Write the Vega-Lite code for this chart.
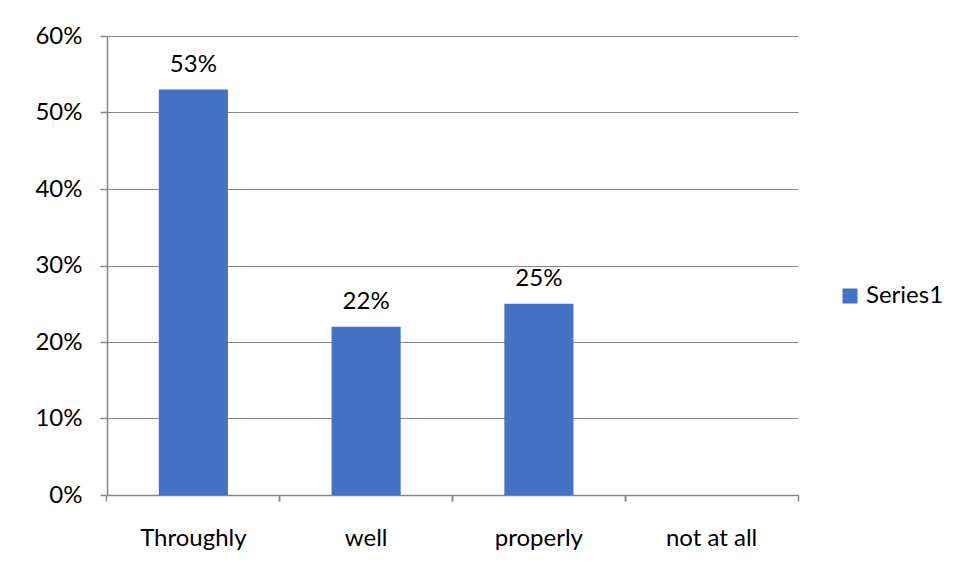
{
  "$schema": "https://vega.github.io/schema/vega-lite/v6.json",
  "width": 691,
  "height": 459,
  "autosize": "none",
  "padding": {"left": 107, "top": 36, "right": 172, "bottom": 87},
  "background": "white",
  "data": {
    "values": [
      {"category": "Throughly", "value": 0.53, "series": "Series1"},
      {"category": "well", "value": 0.22, "series": "Series1"},
      {"category": "properly", "value": 0.25, "series": "Series1"},
      {"category": "not at all", "value": 0, "series": "Series1"}
    ]
  },
  "config": {
    "font": "Lato",
    "view": {"stroke": null},
    "axis": {
      "labelFont": "Lato",
      "labelFontSize": 24,
      "labelFontWeight": "normal",
      "labelColor": "#000000",
      "domainColor": "#868686",
      "tickColor": "#868686",
      "gridColor": "#868686",
      "domainWidth": 1.5,
      "tickWidth": 1.5
    }
  },
  "encoding": {
    "x": {
      "field": "category",
      "type": "nominal",
      "sort": null,
      "scale": {"paddingInner": 0.6, "paddingOuter": 0.3}
    }
  },
  "layer": [
    {
      "mark": {"type": "bar", "color": "#4472C4"},
      "encoding": {
        "x": {
          "field": "category",
          "type": "nominal",
          "sort": null,
          "axis": {
            "title": null,
            "labelAngle": 0,
            "bandPosition": -0.75,
            "tickSize": 6,
            "labelPadding": 25,
            "grid": false
          }
        },
        "y": {
          "field": "value",
          "type": "quantitative",
          "scale": {"domain": [0, 0.6], "nice": false},
          "axis": {
            "title": null,
            "format": ".0%",
            "values": [0, 0.1, 0.2, 0.3, 0.4, 0.5, 0.6],
            "tickSize": 7,
            "labelPadding": 18,
            "grid": true,
            "gridWidth": 1
          }
        },
        "color": {
          "field": "series",
          "type": "nominal",
          "scale": {"range": ["#4472C4"]},
          "legend": {
            "title": null,
            "orient": "none",
            "legendX": 731,
            "legendY": 248,
            "symbolType": "square",
            "symbolSize": 225,
            "symbolStrokeWidth": 0,
            "labelFontSize": 24,
            "labelFont": "Lato",
            "labelColor": "#000000",
            "labelOffset": 4
          }
        }
      }
    },
    {
      "transform": [{"filter": "datum.value > 0"}],
      "mark": {"type": "text", "dy": -18, "baseline": "alphabetic", "fontSize": 24, "color": "#000000", "font": "Lato"},
      "encoding": {
        "x": {
          "field": "category",
          "type": "nominal",
          "sort": null,
          "axis": {
            "title": null,
            "labels": false,
            "domain": false,
            "grid": false,
            "bandPosition": 1.75,
            "tickSize": 6,
            "orient": "bottom"
          }
        },
        "y": {"field": "value", "type": "quantitative"},
        "text": {"field": "value", "type": "quantitative", "format": ".0%"}
      }
    }
  ],
  "resolve": {"axis": {"x": "independent"}}
}
